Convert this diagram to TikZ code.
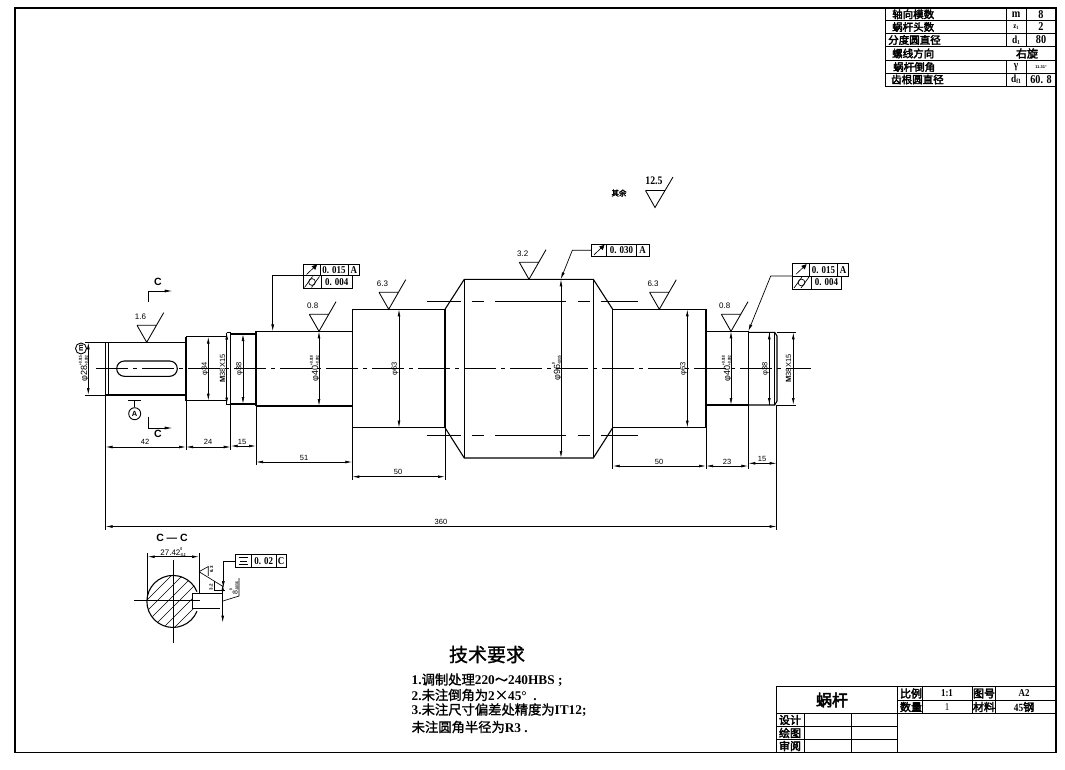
\documentclass[tikz,border=0pt]{standalone}
\usepackage{fontspec}
\usetikzlibrary{arrows.meta}
\setmainfont{Liberation Sans}
\newfontfamily\cjk{Noto Sans CJK SC}[AutoFakeBold=1.2]
\newfontfamily\cjkh{Noto Sans CJK SC}[AutoFakeBold=3]
\newfontfamily\monob{Liberation Mono}[Scale=1]
\newfontfamily\serifb{Liberation Serif}
\newfontfamily\numf{Liberation Serif}[FakeStretch=0.85]
\tikzset{
  obj/.style={draw=black,line width=1.1pt},
  thinl/.style={draw=black,line width=0.65pt},
  frm/.style={draw=black,line width=0.9pt},
  dimen/.style={draw=black,line width=0.7pt,{Latex[length=7pt,width=2.8pt]}-{Latex[length=7pt,width=2.8pt]}},
  leader/.style={draw=black,line width=0.7pt,-{Latex[length=7pt,width=3pt]}},
  center/.style={draw=black,line width=0.65pt,dash pattern=on 32pt off 5pt on 4pt off 5pt},
  dimt/.style={font=\fontsize{7.5}{7.5}\selectfont,inner sep=0pt,text=black},
  vdim/.style={dimt,rotate=90,font=\fontsize{7.5}{7.5}\selectfont},
  vtol/.style={dimt,rotate=90,font=\fontsize{9}{9}\selectfont},
  vm/.style={dimt,rotate=90,font=\fontsize{7.5}{7.5}\selectfont},
  rought/.style={font=\fontsize{8}{8}\selectfont,inner sep=0pt},
  cn/.style={inner sep=0pt,font=\fontsize{11}{11}\cjkh\bfseries},
  cnl/.style={inner sep=0pt,font=\fontsize{10.5}{10.5}\cjkh\bfseries,anchor=west},
  tolt/.style={inner sep=0pt,font=\fontsize{10.5}{10.5}\numf\bfseries},
  tblv/.style={inner sep=0pt,font=\fontsize{12}{12}\numf\bfseries},
  tech/.style={inner sep=0pt,anchor=west,font=\fontsize{13.3}{13.3}\cjk\bfseries},
  sect/.style={inner sep=0pt,font=\fontsize{10.5}{10.5}\selectfont\bfseries},
}
\newcommand{\lat}[1]{{\fontsize{13.3}{13.3}\serifb\bfseries #1}}
% roughness symbol: apex x, apex y, label, node name
\newcommand{\roughsym}[4]{%
  \draw[thinl,line width=0.85pt] (#1-9.7,#2-17)--(#1+9.7,#2-17) (#1-9.7,#2-17)--(#1,#2)--(#1+17,#2-29.6);
  \node[rought] (#4) at (#1-6.2,#2-25.3) {#3};}
% runout and cylindricity icons
\newcommand{\runout}[2]{\draw[thinl] (#1-5,#2+4.5)--(#1+4,#2-4);
  \draw[thinl,fill=black] (#1+5,#2-5)--(#1+0.8,#2-3.6)--(#1+3.6,#2-0.8)--cycle;}
\newcommand{\cylind}[2]{\draw[thinl] (#1-7.5,#2+5.5)--(#1+0.5,#2-5.5) (#1-0.5,#2+5.5)--(#1+7.5,#2-5.5);
  \draw[thinl] (#1,#2) circle (3.4);}
\newcommand{\tols}[2]{\raisebox{-0.7pt}{\scalebox{0.72}[1]{\fontsize{4.2}{4.4}\selectfont\bfseries\shortstack[l]{#1\\#2}}}}
\begin{document}
\begin{tikzpicture}[x=1pt,y=-1pt]
\useasboundingbox (0,0) rectangle (1065,770);
\fill[white] (0,0) rectangle (1065,770);
% sheet frame
\draw[obj] (15,8) rectangle (1056,752.5);

% parameters table
\draw[frm] (885,8)--(885,86) (885,86)--(1056,86);
\foreach \y in {20.7,33.5,46.7,60,73.3} \draw[frm] (885,\y)--(1056,\y);
\draw[frm] (1006,8)--(1006,46.7) (1006,60)--(1006,86);
\draw[frm] (1026.7,8)--(1026.7,46.7) (1026.7,60)--(1026.7,86);
\node[cnl] (p1) at (892,14.3) {轴向模数};
\node[cnl] (p2) at (892,27) {蜗杆头数};
\node[cnl] (p3) at (888,40) {分度圆直径};
\node[cnl] (p4) at (892,53.5) {螺线方向};
\node[cnl] (p5) at (893,67) {蜗杆倒角};
\node[cnl] (p6) at (891,79.5) {齿根圆直径};
\node[tblv] (q1) at (1016,14.3) {m};
\node[tblv] (q2) at (1016,27) {\fontsize{8}{8}\selectfont z\raisebox{-1pt}{\fontsize{5}{5}\selectfont 1}};
\node[tblv] (q3) at (1016,40) {\fontsize{11}{11}\selectfont d\raisebox{-1pt}{\fontsize{6}{6}\selectfont 1}};
\node[tblv] (q5) at (1016,67) {\fontsize{11}{11}\selectfont γ};
\node[tblv] (q6) at (1016,79.5) {\fontsize{11}{11}\selectfont d\raisebox{-1pt}{\fontsize{6.5}{6.5}\selectfont f1}};
\node[tblv] (r1) at (1041,14.3) {8};
\node[tblv] (r2) at (1041,27) {2};
\node[tblv] (r3) at (1041,40) {80};
\node[cn] (r4) at (1027,53.5) {右旋};
\node[inner sep=0pt,font=\fontsize{4}{4}\selectfont\bfseries] (r5) at (1041,67) {11.31°};
\node[tblv] (r6) at (1041,79.5) {60. 8};

% other surfaces note
\node[inner sep=0pt,font=\fontsize{7.5}{7.5}\cjkh\bfseries] (ys) at (619,193) {其余};
\draw[thinl,line width=0.85pt] (645.5,190.5)--(665,190.5) (645.5,190.5)--(655,207.5)--(673,177);
\node[inner sep=0pt,font=\fontsize{11.5}{11.5}\numf\bfseries] (r125) at (654,181) {12.5};

% shaft
\draw[center] (96,368.3)--(811,368.3);
\draw[obj] (105.5,342.3)--(186,342.3) (186,395)--(105.5,395)--(105.5,342.3);
\draw[obj] (186,336.7)--(186,400.7);
\draw[thinl,line width=1pt] (108,342.3)--(108,395);
\draw[obj,rounded corners=7.6pt] (116.7,361) rectangle (177.3,376.3);
\draw[obj] (186,336.7)--(226.7,336.7) (186,400.7)--(226.7,400.7);
\draw[obj] (226.7,332.7)--(226.7,404.5) (226.7,332.7)--(230.7,332.7) (226.7,404.5)--(230.7,404.5);
\draw[obj] (230.7,332.7)--(230.7,404.5);
\draw[obj] (230.7,334)--(256,334) (230.7,404)--(256,404);
\draw[obj] (256,331.3)--(256,406);
\draw[obj] (256,331.3)--(352.3,331.3) (256,406)--(352.3,406);
\draw[obj] (352.3,309.3)--(352.3,427.7) (352.3,309.3)--(445,309.3) (352.3,427.7)--(445,427.7) (445,309.3)--(445,427.7);
\draw[obj] (445,309.3)--(464.3,279.3)--(593.3,279.3)--(612.7,309.3) (445,427.7)--(464.3,458)--(593.3,458)--(612.7,427.7);
\draw[obj] (464.3,279.3)--(464.3,458) (593.3,279.3)--(593.3,458);
\draw[obj] (612.7,309.3)--(612.7,427.7) (612.7,309.3)--(706,309.3) (612.7,427.7)--(706,427.7) (706,309.3)--(706,427.7);
\draw[obj] (706,331.3)--(748.3,331.3) (706,405)--(748.3,405) (748.3,331.3)--(748.3,405);
\draw[obj] (748.3,332.3)--(774.7,332.3)--(777,336)--(777,401)--(774.7,405)--(748.3,405);
\draw[thinl] (769,332.3)--(769,405) (774.7,332.3)--(774.7,405);
% hidden worm lines
\foreach \yy in {301.3,435.7}
  \draw[thinl,line width=0.8pt] (426.7,\yy)--(461,\yy) (471.7,\yy)--(484.3,\yy) (495,\yy)--(566,\yy) (577.7,\yy)--(590,\yy) (600.7,\yy)--(638.3,\yy);

% extension lines
\draw[thinl] (105.5,395)--(105.5,530) (186,400.7)--(186,450) (230.7,404.5)--(230.7,450) (256,406)--(256,465)
 (352.3,427.7)--(352.3,480) (445,427.7)--(445,480) (612.7,427.7)--(612.7,469) (706,427.7)--(706,469)
 (748.3,405)--(748.3,469) (776.7,405)--(776.7,530);
\draw[thinl] (85,342.3)--(105.5,342.3) (85,395)--(105.5,395) (776.7,332.3)--(796,332.3) (776.7,405)--(796,405);

% linear dimensions
\draw[dimen] (105.5,447)--(186,447);
\draw[dimen] (186,447)--(230.7,447);
\draw[dimen] (230.7,446)--(256,446);
\draw[dimen] (256,462)--(352.3,462);
\draw[dimen] (352.3,476.7)--(445,476.7);
\draw[dimen] (612.7,466)--(706,466);
\draw[dimen] (706,466)--(748.3,466);
\draw[dimen] (748.3,463.3)--(776.7,463.3);
\draw[dimen] (105.5,526.5)--(776.7,526.5);
\node[dimt] (d42) at (145,442) {42};
\node[dimt] (d24) at (208,442) {24};
\node[dimt] (d15) at (242,441.5) {15};
\node[dimt] (d51) at (304,457.5) {51};
\node[dimt] (d50) at (398,472) {50};
\node[dimt] (d50b) at (659,461.5) {50};
\node[dimt] (d23) at (727,461.5) {23};
\node[dimt] (d15b) at (762,459) {15};
\node[dimt] (d360) at (441,522) {360};

% diameter dimensions
\draw[dimen] (88.3,342.3)--(88.3,395);
\draw[dimen] (208.3,336.7)--(208.3,400.7);
\draw[dimen] (226.7,332.7)--(226.7,404.5);
\draw[dimen] (243,334)--(243,404);
\draw[dimen] (319,331.3)--(319,406);
\draw[dimen] (399,309.3)--(399,427.7);
\draw[dimen] (561,279.3)--(561,458);
\draw[dimen] (687.3,309.3)--(687.3,427.7);
\draw[dimen] (731,331.3)--(731,405);
\draw[dimen] (769.3,332.3)--(769.3,405);
\draw[dimen] (793.3,332.3)--(793.3,405);
\node[vtol] (dd1) at (84,368.5) {φ28\tols{+0.015}{+0.002}};
\node[vdim] (dd2) at (205,368.5) {φ34};
\node[vm] (dd3) at (222.5,368.5) {\textbf{M}38X15};
\node[vdim] (dd4) at (239.5,368.5) {φ38};
\node[vtol] (dd5) at (315,368.5) {φ40\tols{+0.018}{+0.002}};
\node[vdim] (dd6) at (395,368.5) {φ63};
\node[vtol] (dd7) at (557,368.5) {φ96\tols{0}{-0.035}};
\node[vdim] (dd8) at (683.5,368.5) {φ63};
\node[vtol] (dd9) at (727,368.5) {φ40\tols{+0.018}{+0.002}};
\node[vdim] (dd10) at (765.5,368.5) {φ38};
\node[vm] (dd11) at (788.5,368.5) {\textbf{M}38X15};
\node[draw,circle,line width=0.9pt,minimum size=11pt,inner sep=0pt,rotate=90,font=\fontsize{7.5}{7.5}\selectfont\bfseries] (cm) at (81,348.5) {m};

% roughness
\roughsym{146.7}{342.3}{1.6}{ra1}
\roughsym{319}{331.3}{0.8}{ra2}
\roughsym{388.7}{309.3}{6.3}{ra3}
\roughsym{529}{279.3}{3.2}{ra4}
\roughsym{659.3}{309.3}{6.3}{ra5}
\roughsym{731}{331.3}{0.8}{ra6}

% section marks
\draw[thinl,line width=0.8pt,-{Latex[length=8pt,width=3pt]}] (148.3,302)--(148.3,291)--(172.7,291);
\draw[thinl,line width=0.8pt,-{Latex[length=8pt,width=3pt]}] (148.3,416.7)--(148.3,428)--(172.7,428);
\node[sect] (c1) at (158,282) {C};
\node[sect] (c2) at (158,433.8) {C};
\node[draw,circle,line width=0.9pt,minimum size=12pt,inner sep=0pt,font=\fontsize{7.5}{7.5}\selectfont\bfseries] (da) at (134.7,413.7) {A};
\coordinate (dtop) at (134.7,400.7);
\draw[obj] (128.3,400.7)--(141,400.7);
\draw[thinl] (dtop)--(da);

% tolerance frames
\draw[frm] (303.3,264) rectangle (359.3,275.7) (320,264)--(320,275.7) (348.3,264)--(348.3,275.7);
\draw[frm] (303.3,275.7) rectangle (352.3,288.3) (321,275.7)--(321,288.3);
\runout{311.5}{270}\cylind{312}{282}
\node[tolt] (t1) at (334,270) {0. 015};
\node[tolt] (t2) at (353.8,270) {A};
\node[tolt] (t3) at (336.7,282) {0. 004};
\coordinate (tl) at (303.3,275.7);
\draw[leader] (tl)--(272.7,275.7)--(272.7,331.3);

\draw[frm] (591.3,244) rectangle (649,256.7) (606.7,244)--(606.7,256.7) (636,244)--(636,256.7);
\runout{599}{250.3}
\node[tolt] (t4) at (621.5,250.3) {0. 030};
\node[tolt] (t5) at (642.5,250.3) {A};
\coordinate (tm) at (591.3,250.3);
\draw[leader] (tm)--(572.3,250.3)--(560.7,279.3);

\draw[frm] (792.7,263.3) rectangle (848.3,276) (809.3,263.3)--(809.3,276) (837.7,263.3)--(837.7,276);
\draw[frm] (792.7,276) rectangle (841.7,289) (811,276)--(811,289);
\runout{801}{269.7}\cylind{801.5}{282.5}
\node[tolt] (t6) at (823.5,269.7) {0. 015};
\node[tolt] (t7) at (843,269.7) {A};
\node[tolt] (t8) at (826.5,282.5) {0. 004};
\coordinate (tr) at (792.7,276);
\draw[leader] (tr)--(770.7,276)--(748.3,331.3);

% section C-C
\node[sect] (cc) at (172,538) {C — C};
\begin{scope}
 \clip (173.3,601) circle (26);
 \clip (140,570) rectangle (192.3,632) (192.3,570) rectangle (205,593.3) (192.3,608.3) rectangle (205,632);
 \foreach \k in {-33,-22,...,66}
   \draw[thinl] (140+\k,640)--(205+\k,575);
\end{scope}
\draw[obj] (197,591.7) arc[start angle=-22,end angle=-338,radius=26];
\draw[obj] (192.3,593.3)--(192.3,608.3);
\draw[obj] (192.3,593.3)--(223,593.3) (192.3,608.3)--(220,608.3);
\draw[thinl] (134.3,600.7)--(200,600.7) (173.3,560)--(173.3,643);
\draw[thinl] (147.7,553)--(147.7,601) (199,553)--(199,593);
\draw[dimen] (147.7,556.7)--(199,556.7);
\node[dimt,font=\fontsize{8}{8}\selectfont] (s1) at (173,552) {27.42\tols{0}{-0.2}};
\draw[dimen] (222.7,584)--(222.7,622.7);
\node[vdim,font=\fontsize{7}{7}\selectfont] (s2) at (234,588.5) {8\tols{0}{-0.036}};
\draw[thinl] (223,601)--(239,596)--(239,578);
\draw[frm] (235.3,554.3) rectangle (286,567.7) (251.3,554.3)--(251.3,567.7) (276,554.3)--(276,567.7);
\draw[thinl] (238.5,557.5)--(248,557.5) (240,561)--(246.5,561) (238.5,564.5)--(248,564.5);
\node[tolt] (t9) at (263.7,561) {0. 02};
\node[tolt] (t10) at (281,561) {C};
\coordinate (ts) at (235.3,561);
\draw[leader] (ts)--(223.3,561)--(223.3,588);
\draw[thinl] (199,571.7)--(223.3,586.7) (199,571.7)--(208.3,566.5)--(208.3,575.8);
\draw[thinl] (214.3,581)--(214.3,590.7)--(225,590.7);
\node[inner sep=0pt,rotate=90,font=\fontsize{4.5}{4.5}\selectfont\bfseries] (s3) at (211,587) {3.2};
\node[inner sep=0pt,rotate=90,font=\fontsize{4.5}{4.5}\selectfont\bfseries] (s4) at (211.5,569.5) {6.3};

% technical requirements
\node[inner sep=0pt,font=\fontsize{19}{19}\cjk\bfseries] (jsyq) at (487,654.5) {技术要求};
\node[tech] (l1) at (411.5,680) {\lat{1.}调制处理\lat{220}～\lat{240HBS ;}};
\node[tech] (l2) at (411.5,695) {\lat{2.}未注倒角为\lat{2}×\lat{45°\ \ .}};
\node[tech] (l3) at (411.5,710) {\lat{3.}未注尺寸偏差处精度为\lat{IT12;}};
\node[tech] (l4) at (411.5,727) {未注圆角半径为\lat{R3 .}};

% title block
\draw[frm] (776,686.7)--(1056,686.7) (776,686.7)--(776,752.5) (776,713.3)--(1056,713.3) (897.7,686.7)--(897.7,752.5) (897.7,700)--(1056,700);
\draw[frm] (922.7,686.7)--(922.7,713.3) (972.7,686.7)--(972.7,713.3) (995,686.7)--(995,713.3);
\draw[frm] (776,726.7)--(897.7,726.7) (776,739.3)--(897.7,739.3) (804.3,713.3)--(804.3,752.5) (851,713.3)--(851,752.5);
\node[inner sep=0pt,font=\fontsize{16}{16}\cjkh\bfseries] (nm) at (832,700) {蜗杆};
\node[cn] (b1) at (911,693.5) {比例};
\node[tolt] (b2) at (947,693.5) {1:1};
\node[cn] (b3) at (984,693.5) {图号};
\node[tolt] (b4) at (1024,693.5) {A2};
\node[cn] (b5) at (911,707) {数量};
\node[tolt,font=\fontsize{10.5}{10.5}\numf] (b6) at (947,707) {1};
\node[cn] (b7) at (984,707) {材料};
\node[cn] (b8) at (1024,707) {\numf\bfseries 45\cjkh\bfseries 钢};
\node[cn] (b9) at (790,720) {设计};
\node[cn] (b10) at (790,733) {绘图};
\node[cn] (b11) at (790,746) {审阅};
\end{tikzpicture}
\end{document}
